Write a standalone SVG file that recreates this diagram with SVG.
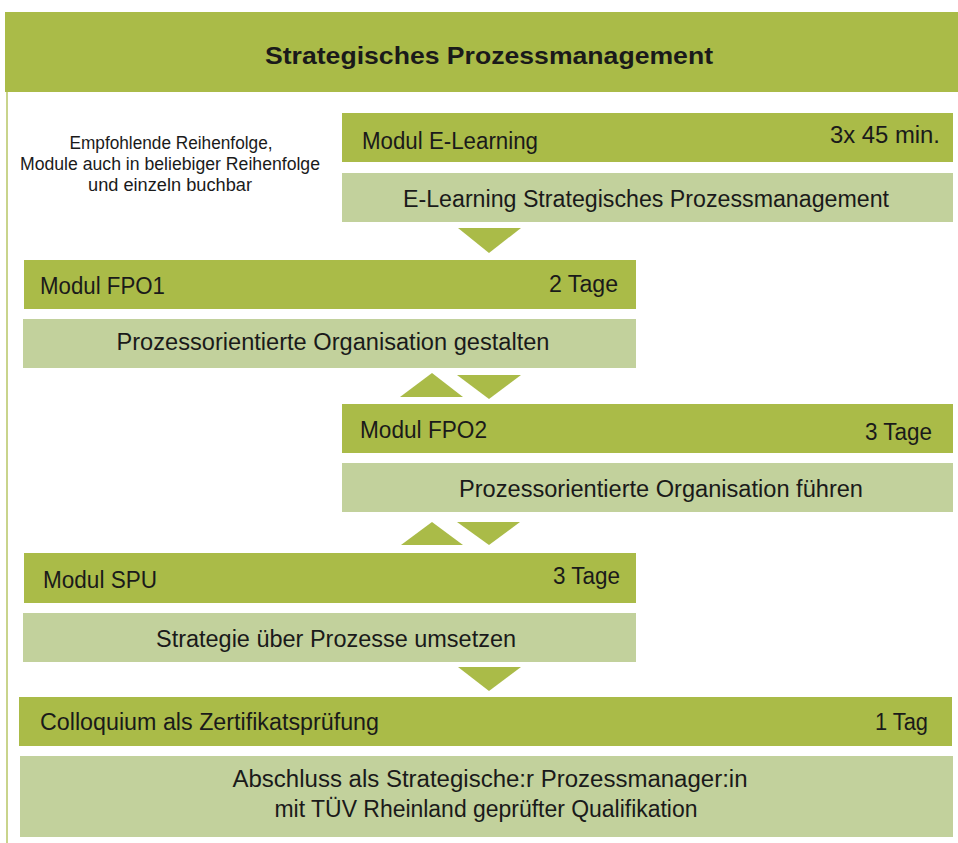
<svg xmlns="http://www.w3.org/2000/svg" width="958" height="843" viewBox="0 0 958 843">
<style>
.dark{fill:#aabb48}
.light{fill:#c2d19c}
.arrow{fill:#aabb48}
text{font-family:"Liberation Sans",Arial,sans-serif;fill:#1a1a1a}
.t{font-size:23px}
.s{font-size:17.5px}
.title{font-size:24px;font-weight:bold}
</style>
<rect x="0" y="0" width="958" height="843" fill="#ffffff"/>
<g id="frame">
<rect x="5" y="12" width="953" height="80" class="dark"/>
<rect x="6" y="92" width="2" height="751" fill="#c9d48c"/>
<text x="489" y="64" text-anchor="middle" class="title" textLength="448" lengthAdjust="spacingAndGlyphs">Strategisches Prozessmanagement</text>
</g>
<g id="note">
<text x="171" y="149" text-anchor="middle" class="s" textLength="203" lengthAdjust="spacingAndGlyphs">Empfohlende Reihenfolge,</text>
<text x="170" y="170" text-anchor="middle" class="s" textLength="300" lengthAdjust="spacingAndGlyphs">Module auch in beliebiger Reihenfolge</text>
<text x="170" y="191" text-anchor="middle" class="s" textLength="164" lengthAdjust="spacingAndGlyphs">und einzeln buchbar</text>
</g>
<g id="elearning">
<rect x="342" y="113" width="611" height="49" class="dark"/>
<text x="362" y="149" class="t" textLength="176" lengthAdjust="spacingAndGlyphs">Modul E-Learning</text>
<text x="940" y="143" text-anchor="end" class="t" textLength="110" lengthAdjust="spacingAndGlyphs">3x 45 min.</text>
<rect x="342" y="173" width="611" height="49" class="light"/>
<text x="646" y="207" text-anchor="middle" class="t" textLength="486" lengthAdjust="spacingAndGlyphs">E-Learning Strategisches Prozessmanagement</text>
</g>
<g id="fpo1">
<rect x="24" y="260" width="612" height="49" class="dark"/>
<text x="40" y="294" class="t" textLength="125" lengthAdjust="spacingAndGlyphs">Modul FPO1</text>
<text x="618" y="292" text-anchor="end" class="t" textLength="69" lengthAdjust="spacingAndGlyphs">2 Tage</text>
<rect x="23" y="319" width="613" height="49" class="light"/>
<text x="333" y="350" text-anchor="middle" class="t" textLength="433" lengthAdjust="spacingAndGlyphs">Prozessorientierte Organisation gestalten</text>
</g>
<g id="fpo2">
<rect x="342" y="404" width="611" height="49" class="dark"/>
<text x="360" y="438" class="t" textLength="127" lengthAdjust="spacingAndGlyphs">Modul FPO2</text>
<text x="932" y="440" text-anchor="end" class="t" textLength="67" lengthAdjust="spacingAndGlyphs">3 Tage</text>
<rect x="342" y="463" width="611" height="49" class="light"/>
<text x="661" y="497" text-anchor="middle" class="t" textLength="404" lengthAdjust="spacingAndGlyphs">Prozessorientierte Organisation führen</text>
</g>
<g id="spu">
<rect x="24" y="553" width="612" height="50" class="dark"/>
<text x="43" y="588" class="t" textLength="114" lengthAdjust="spacingAndGlyphs">Modul SPU</text>
<text x="620" y="584" text-anchor="end" class="t" textLength="67" lengthAdjust="spacingAndGlyphs">3 Tage</text>
<rect x="23" y="613" width="613" height="49" class="light"/>
<text x="336" y="647" text-anchor="middle" class="t" textLength="360" lengthAdjust="spacingAndGlyphs">Strategie über Prozesse umsetzen</text>
</g>
<g id="colloquium">
<rect x="19" y="697" width="933" height="49" class="dark"/>
<text x="40" y="730" class="t" textLength="339" lengthAdjust="spacingAndGlyphs">Colloquium als Zertifikatsprüfung</text>
<text x="928" y="730" text-anchor="end" class="t" textLength="53" lengthAdjust="spacingAndGlyphs">1 Tag</text>
<rect x="20" y="756" width="933" height="81" class="light"/>
<text x="490" y="787" text-anchor="middle" class="t" textLength="515" lengthAdjust="spacingAndGlyphs">Abschluss als Strategische:r Prozessmanager:in</text>
<text x="486" y="817" text-anchor="middle" class="t" textLength="423" lengthAdjust="spacingAndGlyphs">mit TÜV Rheinland geprüfter Qualifikation</text>
</g>
<g id="connectors">
<polygon class="arrow" points="458,228 521,228 489,253"/>
<polygon class="arrow" points="400,397 463,397 432,373"/>
<polygon class="arrow" points="457,375 521,375 489,399"/>
<polygon class="arrow" points="401,545 463,545 432,522"/>
<polygon class="arrow" points="457,522 520,522 489,545"/>
<polygon class="arrow" points="458,667 521,667 489,691"/>
</g>
</svg>
